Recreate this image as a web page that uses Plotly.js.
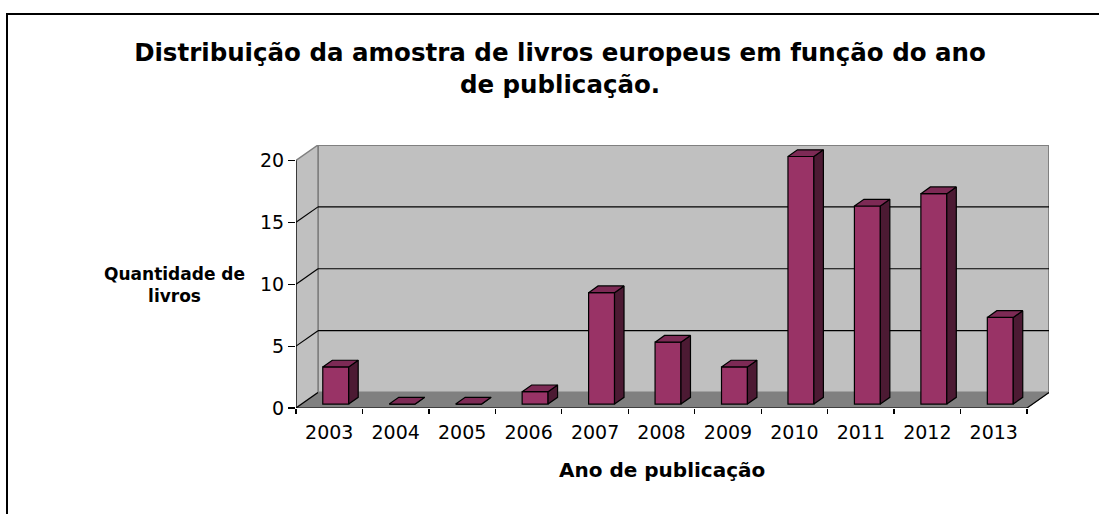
<!DOCTYPE html>
<html>
<head>
<meta charset="utf-8">
<script src="https://cdn.plot.ly/plotly-3.0.1.min.js"></script>
<style>
  html, body { margin: 0; padding: 0; background: #fff; overflow: hidden; }
  #chart { position: absolute; left: 0; top: 0; width: 1099px; height: 514px; }
  #frame { position: absolute; left: 6px; top: 13px; width: 1200px; height: 700px;
           border-left: 2.5px solid #000; border-top: 2.5px solid #000; pointer-events: none; }
</style>
</head>
<body>
<div id="chart"></div>
<div id="frame"></div>
<script>
// ---- data ----
const years = ['2003', '2004', '2005', '2006', '2007', '2008', '2009', '2010', '2011', '2012', '2013'];
const counts = [3, 0, 0, 1, 9, 5, 3, 20, 16, 17, 7];
const yTickVals = [0, 5, 10, 15, 20];
const titleText = 'Distribuição da amostra de livros europeus em função do ano<br>de publicação.';
const yTitleText = 'Quantidade de<br>livros';
const xTitleText = 'Ano de publicação';

// ---- 3D look geometry (styling constants) ----
const DX = 0.331, DY = 1.25;      // wall depth offset (x units, value units)
const BX = 0.098, BW = 0.39;      // bar offset and width
const BB = 0.32;                  // bar base lift
const BDX = 0.143, BDY = 0.54;    // bar depth
const yMax = yTickVals[yTickVals.length - 1];
const n = years.length;
const xi = years.map((_, i) => i);
const xLo = -0.5, xHi = n - 0.5;

// top and side faces from the data
const topX = [], topY = [], sideX = [], sideY = [];
counts.forEach((v, i) => {
  const x0 = i + BX - BW / 2, x1 = i + BX + BW / 2, yt = BB + v;
  topX.push(x0, x1, x1 + BDX, x0 + BDX, x0, null);
  topY.push(yt, yt, yt + BDY, yt + BDY, yt, null);
  sideX.push(x1, x1, x1 + BDX, x1 + BDX, x1, null);
  sideY.push(BB, yt, yt + BDY, BB + BDY, BB, null);
});

const traces = [
  {
    type: 'bar', x: xi.map(i => i + BX), y: counts, base: BB, width: BW,
    marker: { color: '#993366', line: { color: '#000', width: 1.2 } },
    hoverinfo: 'skip', showlegend: false
  },
  {
    type: 'scatter', mode: 'lines', x: sideX, y: sideY, fill: 'toself',
    fillcolor: '#4c1a33', line: { color: '#000', width: 1.2 },
    hoverinfo: 'skip', showlegend: false
  },
  {
    type: 'scatter', mode: 'lines', x: topX, y: topY, fill: 'toself',
    fillcolor: '#7d2a55', line: { color: '#000', width: 1.2 },
    hoverinfo: 'skip', showlegend: false
  }
];

const shapes = [];
// back wall
shapes.push({ type: 'rect', layer: 'below', xref: 'x', yref: 'y',
  x0: xLo + DX, x1: xHi + DX, y0: DY, y1: yMax + DY,
  fillcolor: '#c0c0c0', line: { color: '#808080', width: 2 } });
// side wall
shapes.push({ type: 'path', layer: 'below', xref: 'x', yref: 'y',
  path: `M ${xLo},0 L ${xLo},${yMax} L ${xLo + DX},${yMax + DY} L ${xLo + DX},${DY} Z`,
  fillcolor: '#c0c0c0', line: { color: '#808080', width: 1.5 } });
// floor
shapes.push({ type: 'path', layer: 'below', xref: 'x', yref: 'y',
  path: `M ${xLo},0 L ${xHi},0 L ${xHi + DX},${DY} L ${xLo + DX},${DY} Z`,
  fillcolor: '#808080', line: { color: '#808080', width: 1 } });
// gridlines
yTickVals.forEach(v => {
  if (v > 0 && v < yMax) {
    shapes.push({ type: 'line', layer: 'below', xref: 'x', yref: 'y',
      x0: xLo + DX, x1: xHi + DX, y0: v + DY, y1: v + DY, line: { color: '#000', width: 1.2 } });
  }
  if (v < yMax) {
    shapes.push({ type: 'line', layer: 'below', xref: 'x', yref: 'y',
      x0: xLo, x1: xLo + DX, y0: v, y1: v + DY, line: { color: '#000', width: 1.2 } });
  }
});
// front axis lines
shapes.push({ type: 'line', layer: 'below', xref: 'x', yref: 'y',
  x0: xLo, x1: xLo, y0: 0, y1: yMax, line: { color: '#000', width: 1.2 } });
shapes.push({ type: 'line', layer: 'below', xref: 'x', yref: 'y',
  x0: xLo, x1: xHi, y0: 0, y1: 0, line: { color: '#000', width: 1.2 } });
shapes.push({ type: 'line', layer: 'below', xref: 'x', yref: 'y',
  x0: xHi, x1: xHi + DX, y0: 0, y1: DY, line: { color: '#000', width: 1.2 } });

const boundaries = [];
for (let i = 0; i <= n; i++) boundaries.push(i - 0.5);

const FONT = 'DejaVu Sans, Arial, sans-serif';

const layout = {
  width: 1099, height: 514,
  paper_bgcolor: '#fff', plot_bgcolor: 'rgba(0,0,0,0)',
  margin: { l: 296, r: 50, t: 145, b: 106 },
  showlegend: false,
  title: {
    text: titleText, x: 560 / 1099, xanchor: 'center',
    y: 1 - 61 / 514, yanchor: 'middle', yref: 'container',
    font: { family: FONT, size: 24.5, color: '#000', weight: 'bold' }
  },
  xaxis: {
    range: [xLo, xHi + DX], fixedrange: true,
    tickmode: 'array', tickvals: xi, ticktext: years, ticks: '',
    tickfont: { family: FONT, size: 19, color: '#000' },
    ticklabelstandoff: 11,
    minor: { tickmode: 'array', tickvals: boundaries, ticks: 'outside', ticklen: 5, tickcolor: '#000', tickwidth: 1.2, showgrid: false },
    showgrid: false, zeroline: false, showline: false
  },
  yaxis: {
    range: [0, yMax + DY], fixedrange: true,
    tickmode: 'array', tickvals: yTickVals, ticks: 'outside', ticklen: 7, tickcolor: '#000', tickwidth: 1.2,
    tickfont: { family: FONT, size: 19, color: '#000' },
    showgrid: false, zeroline: false, showline: false
  },
  shapes: shapes,
  annotations: [
    { text: yTitleText, xref: 'paper', yref: 'paper', x: (174 - 296) / 753, y: (408 - 285) / 263,
      xanchor: 'center', yanchor: 'middle', showarrow: false,
      font: { family: FONT, size: 17, color: '#000', weight: 'bold' } },
    { text: xTitleText, xref: 'paper', yref: 'paper', x: (662 - 296) / 753, y: (408 - 470) / 263,
      xanchor: 'center', yanchor: 'middle', showarrow: false,
      font: { family: FONT, size: 20, color: '#000', weight: 'bold' } }
  ]
};

Plotly.newPlot('chart', traces, layout, { displayModeBar: false, staticPlot: true });
</script>
</body>
</html>
